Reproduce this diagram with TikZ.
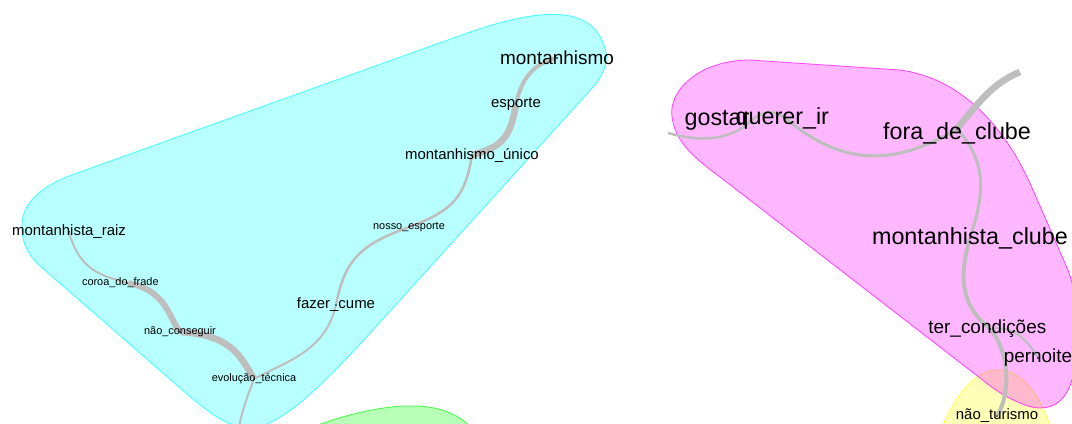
\documentclass[tikz,border=0pt]{standalone}
\usepackage{fontspec}
\setmainfont{Liberation Sans}
\usepackage{tikz}

\pgfdeclarelayer{hulls}
\pgfdeclarelayer{edges}
\pgfsetlayers{hulls,edges,main}
\definecolor{edgegray}{RGB}{190,190,190}
\definecolor{hcyan}{RGB}{0,255,255}
\definecolor{hmagenta}{RGB}{255,0,255}
\definecolor{hyellow}{RGB}{255,255,0}
\definecolor{hgreen}{RGB}{0,255,0}

\begin{document}
\begin{tikzpicture}[x=0.75pt,y=-0.75pt]
	\tikzset{dot/.style={circle,fill=black!80,inner sep=0.55pt},
		edge/.style={draw=edgegray},
		hull/.style={line width=0.6pt,fill opacity=0.28,draw opacity=0.7},
		sm/.style={font=\fontsize{8.2}{10}\selectfont},
		md/.style={font=\fontsize{11.2}{13}\selectfont},
		lg/.style={font=\fontsize{14.2}{17}\selectfont},
		xl/.style={font=\fontsize{17.5}{21}\selectfont}}
	\useasboundingbox (0,0) rectangle (1072,424);
	
	\begin{pgfonlayer}{hulls}
	\filldraw[hull,fill=hcyan,draw=hcyan] (22,228) .. controls (20,205) and (40,185) .. (80,172) -- (470,32) .. controls (540,8) and (590,5) .. (604,45) .. controls (610,62) and (604,72) .. (595,85) -- (373,330) .. controls (320,388) and (280,428) .. (248,428) .. controls (225,428) and (200,405) .. (180,388) -- (40,266) .. controls (28,255) and (22,243) .. cycle;
	\filldraw[hull,fill=hyellow,draw=hyellow] (940,432) .. controls (955,395) and (975,370) .. (998,370) .. controls (1020,370) and (1040,392) .. (1052,432) -- cycle;
	\filldraw[hull,fill=hmagenta,draw=hmagenta] (672,117) .. controls (668,90) and (700,60) .. (750,60) -- (900,70) .. controls (960,78) and (1005,125) .. (1033,190) -- (1068,270) .. controls (1080,300) and (1080,355) .. (1072,380) .. controls (1066,400) and (1055,408) .. (1040,408) .. controls (1025,408) and (1000,395) .. (980,378) -- (720,177) .. controls (690,155) and (675,140) .. cycle;
	\filldraw[hull,fill=hgreen,draw=hgreen] (300,432) .. controls (340,415) and (385,405) .. (413,406) .. controls (440,406) and (462,415) .. (475,432) -- cycle;
	\end{pgfonlayer}
	
	% cyan group
	\node (mont) at (557,58) [dot, label={[lg]center:montanhismo}]{};
	\node (esp) at (516,104) [dot, label={[md]center:esporte}]{};
	\node (unico) at (472,155) [dot, label={[md]center:montanhismo\_único}]{};
	\node (nosso) at (409,227) [dot, label={[sm]center:nosso\_esporte}]{};
	\node (fazer) at (336,305) [dot, label={[md]center:fazer\_cume}]{};
	\node (evol) at (254,379) [dot, label={[sm]center:evolução\_técnica}]{};
	\node (nao) at (180,332) [dot, label={[sm]center:não\_conseguir}]{};
	\node (coroa) at (127,283) [dot, label={[sm,xshift=-5pt]center:coroa\_do\_frade}]{};
	\node (raiz) at (69,232) [dot, label={[md]center:montanhista\_raiz}]{};
	\coordinate (evolout) at (238,432);
	
	% magenta group
	\node (gostar) at (717,120) [xl]{gostar};
	\node (querer) at (785,118) [dot, label={[xl,xshift=-2pt]center:querer\_ir}]{};
	\node (fora) at (957,129) [dot, label={[xl,yshift=-3.5pt]center:fora\_de\_clube}]{};
	\node (clube) at (970,238) [dot, label={[xl]center:montanhista\_clube}]{};
	\node (ter) at (990,329) [dot, label={[lg,xshift=-2pt]center:ter\_condições}]{};
	\node (pern) at (1038,358) [dot, label={[lg]center:pernoite}]{};
	\node (turismo) at (997,416) [dot, label={[md]center:não\_turismo}]{};
	\coordinate (lstub) at (668,133);
	\coordinate (rstub) at (1020,72);
	
	\begin{pgfonlayer}{edges}
	\draw[edge,line width=3pt] (mont) .. controls (530,64) and (520,85) .. (esp);
	\draw[edge,line width=5pt] (esp) .. controls (510,140) and (500,147) .. (unico);
	\draw[edge,line width=1.9pt] (unico) .. controls (465,195) and (455,210) .. (nosso);
	\draw[edge,line width=1.9pt] (nosso) .. controls (360,245) and (345,260) .. (fazer);
	\draw[edge,line width=1.5pt] (fazer) .. controls (325,350) and (290,360) .. (evol);
	\draw[edge,line width=1.5pt] (evol) .. controls (248,395) and (242,410) .. (evolout);
	\draw[edge,line width=1.5pt] (raiz) .. controls (80,270) and (100,275) .. (coroa);
	\draw[edge,line width=4.5pt] (coroa) .. controls (165,290) and (168,315) .. (nao);
	\draw[edge,line width=5pt] (nao) .. controls (230,335) and (240,355) .. (evol);
	
	\draw[edge,line width=1.9pt] (lstub) .. controls (700,142) and (725,140) .. (745,126) .. controls (760,112) and (770,108) .. (querer);
	\draw[edge,line width=2.3pt] (querer) .. controls (830,155) and (880,175) .. (fora);
	\draw[edge,line width=5pt] (fora) .. controls (980,100) and (995,82) .. (rstub);
	\draw[edge,line width=2.3pt] (fora) .. controls (990,165) and (982,200) .. (clube);
	\draw[edge,line width=3pt] (clube) .. controls (958,280) and (962,305) .. (ter);
	\draw[edge,line width=3pt] (ter) .. controls (1008,350) and (1012,390) .. (turismo);
	\draw[edge,line width=1.5pt] (ter) .. controls (1012,325) and (1028,340) .. (pern);
	\end{pgfonlayer}
\end{tikzpicture}
\end{document}
